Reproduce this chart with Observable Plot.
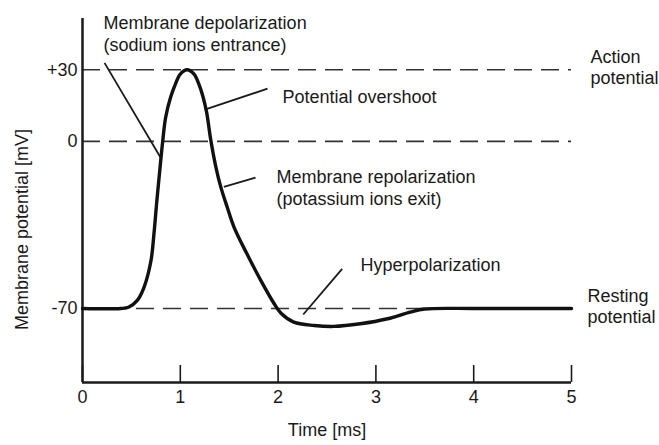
<!DOCTYPE html>
<html><head><meta charset="utf-8">
<script src="https://cdn.jsdelivr.net/npm/d3@7"></script>
<script src="https://cdn.jsdelivr.net/npm/@observablehq/plot@0.6"></script>
<style>body{margin:0;background:#fff} svg{display:block}</style>
</head><body><div id="chart"></div>
<script>
// Action potential trace (time in ms, membrane potential in mV)
const timeMs = [0, 0.39, 0.47, 0.56, 0.63, 0.70, 0.73, 0.76, 0.80, 0.82, 0.85, 0.90, 0.95, 1.00, 1.07, 1.14, 1.19, 1.23, 1.27, 1.31, 1.36, 1.41, 1.48, 1.55, 1.68, 1.82, 1.96, 2.03, 2.16, 2.37, 2.57, 2.84, 3.12, 3.35, 3.50, 4.00, 4.50, 5.00];
const potentialMv = [-70, -70, -69.5, -66.6, -61, -50, -39, -25, -8, 0, 10, 18.4, 24, 28.2, 30, 28.2, 24, 19, 12, 1, -10, -18.5, -27.6, -36, -47, -58, -68, -72, -75.7, -77.1, -77.5, -76.4, -74.3, -71.5, -70.2, -70, -70, -70];

const xTicks = [0, 1, 2, 3, 4, 5];
const yTicks = [30, 0, -70];
const yTickLabels = ["+30", "0", "-70"];
const referenceLevels = [30, 0, -70];
const xDomain = [0, 5];
const yDomain = [-101, 51.5];

// Annotations (anchored in data units)
const annotationLabels = ["Membrane depolarization\n(sodium ions entrance)", "Potential overshoot", "Membrane repolarization\n(potassium ions exit)", "Hyperpolarization", "Action\npotential", "Resting\npotential"];
const annotationTime = [0.215, 2.045, 1.984, 2.843, 5.194, 5.164];
const annotationMv = [45.5, 19.1, -19.2, -51.2, 31.3, -68.7];

// Leader lines: from label to curve
const leaderTime1 = [0.225, 1.892, 1.769, 2.655];
const leaderMv1 = [32.9, 22.1, -15.2, -53.4];
const leaderTime2 = [0.798, 1.250, 1.445, 2.257];
const leaderMv2 = [-6.7, 13.3, -19.0, -72.5];

const trace = timeMs.map((t, i) => ({t, v: potentialMv[i]}));
const annotations = annotationLabels.map((label, i) => ({label, t: annotationTime[i], v: annotationMv[i]}));
const leaders = leaderTime1.map((t1, i) => ({t1, v1: leaderMv1[i], t2: leaderTime2[i], v2: leaderMv2[i]}));

const ink = "#1a1a1a";
const chart = Plot.plot({
  width: 659,
  height: 445,
  marginLeft: 82,
  marginRight: 88,
  marginTop: 18,
  marginBottom: 63,
  style: {fontFamily: "'Liberation Sans', Arial, sans-serif", fontSize: "18px", color: ink, background: "#fff"},
  x: {domain: xDomain},
  y: {domain: yDomain},
  marks: [
    Plot.ruleY(referenceLevels, {stroke: "#333", strokeWidth: 1.6, strokeDasharray: "18,9"}),
    Plot.axisX(xTicks, {tickSize: -17, tickFormat: () => "", strokeWidth: 1.6, label: null}),
    Plot.axisX(xTicks, {tickSize: 0, tickPadding: 8, label: null}),
    Plot.axisY(yTicks, {tickSize: 0, tickPadding: 5, tickFormat: d => yTickLabels[yTicks.indexOf(d)], label: null}),
    Plot.ruleX([xDomain[0]], {stroke: ink, strokeWidth: 2.5}),
    Plot.ruleY([yDomain[0]], {stroke: ink, strokeWidth: 2.5}),
    Plot.link(leaders, {x1: "t1", y1: "v1", x2: "t2", y2: "v2", stroke: ink, strokeWidth: 1.8}),
    Plot.line(trace, {x: "t", y: "v", curve: "catmull-rom", stroke: "#111", strokeWidth: 3.4}),
    Plot.text(annotations, {x: "t", y: "v", text: "label", textAnchor: "start", lineAnchor: "middle", lineHeight: 1.2, fill: ink}),
    Plot.text(["Membrane potential [mV]"], {frameAnchor: "left", textAnchor: "middle", rotate: -90, dx: -60, dy: 29, fill: ink}),
    Plot.text(["Time [ms]"], {frameAnchor: "bottom", dy: 53, fill: ink})
  ]
});
document.getElementById("chart").append(chart);
</script>
</body></html>
